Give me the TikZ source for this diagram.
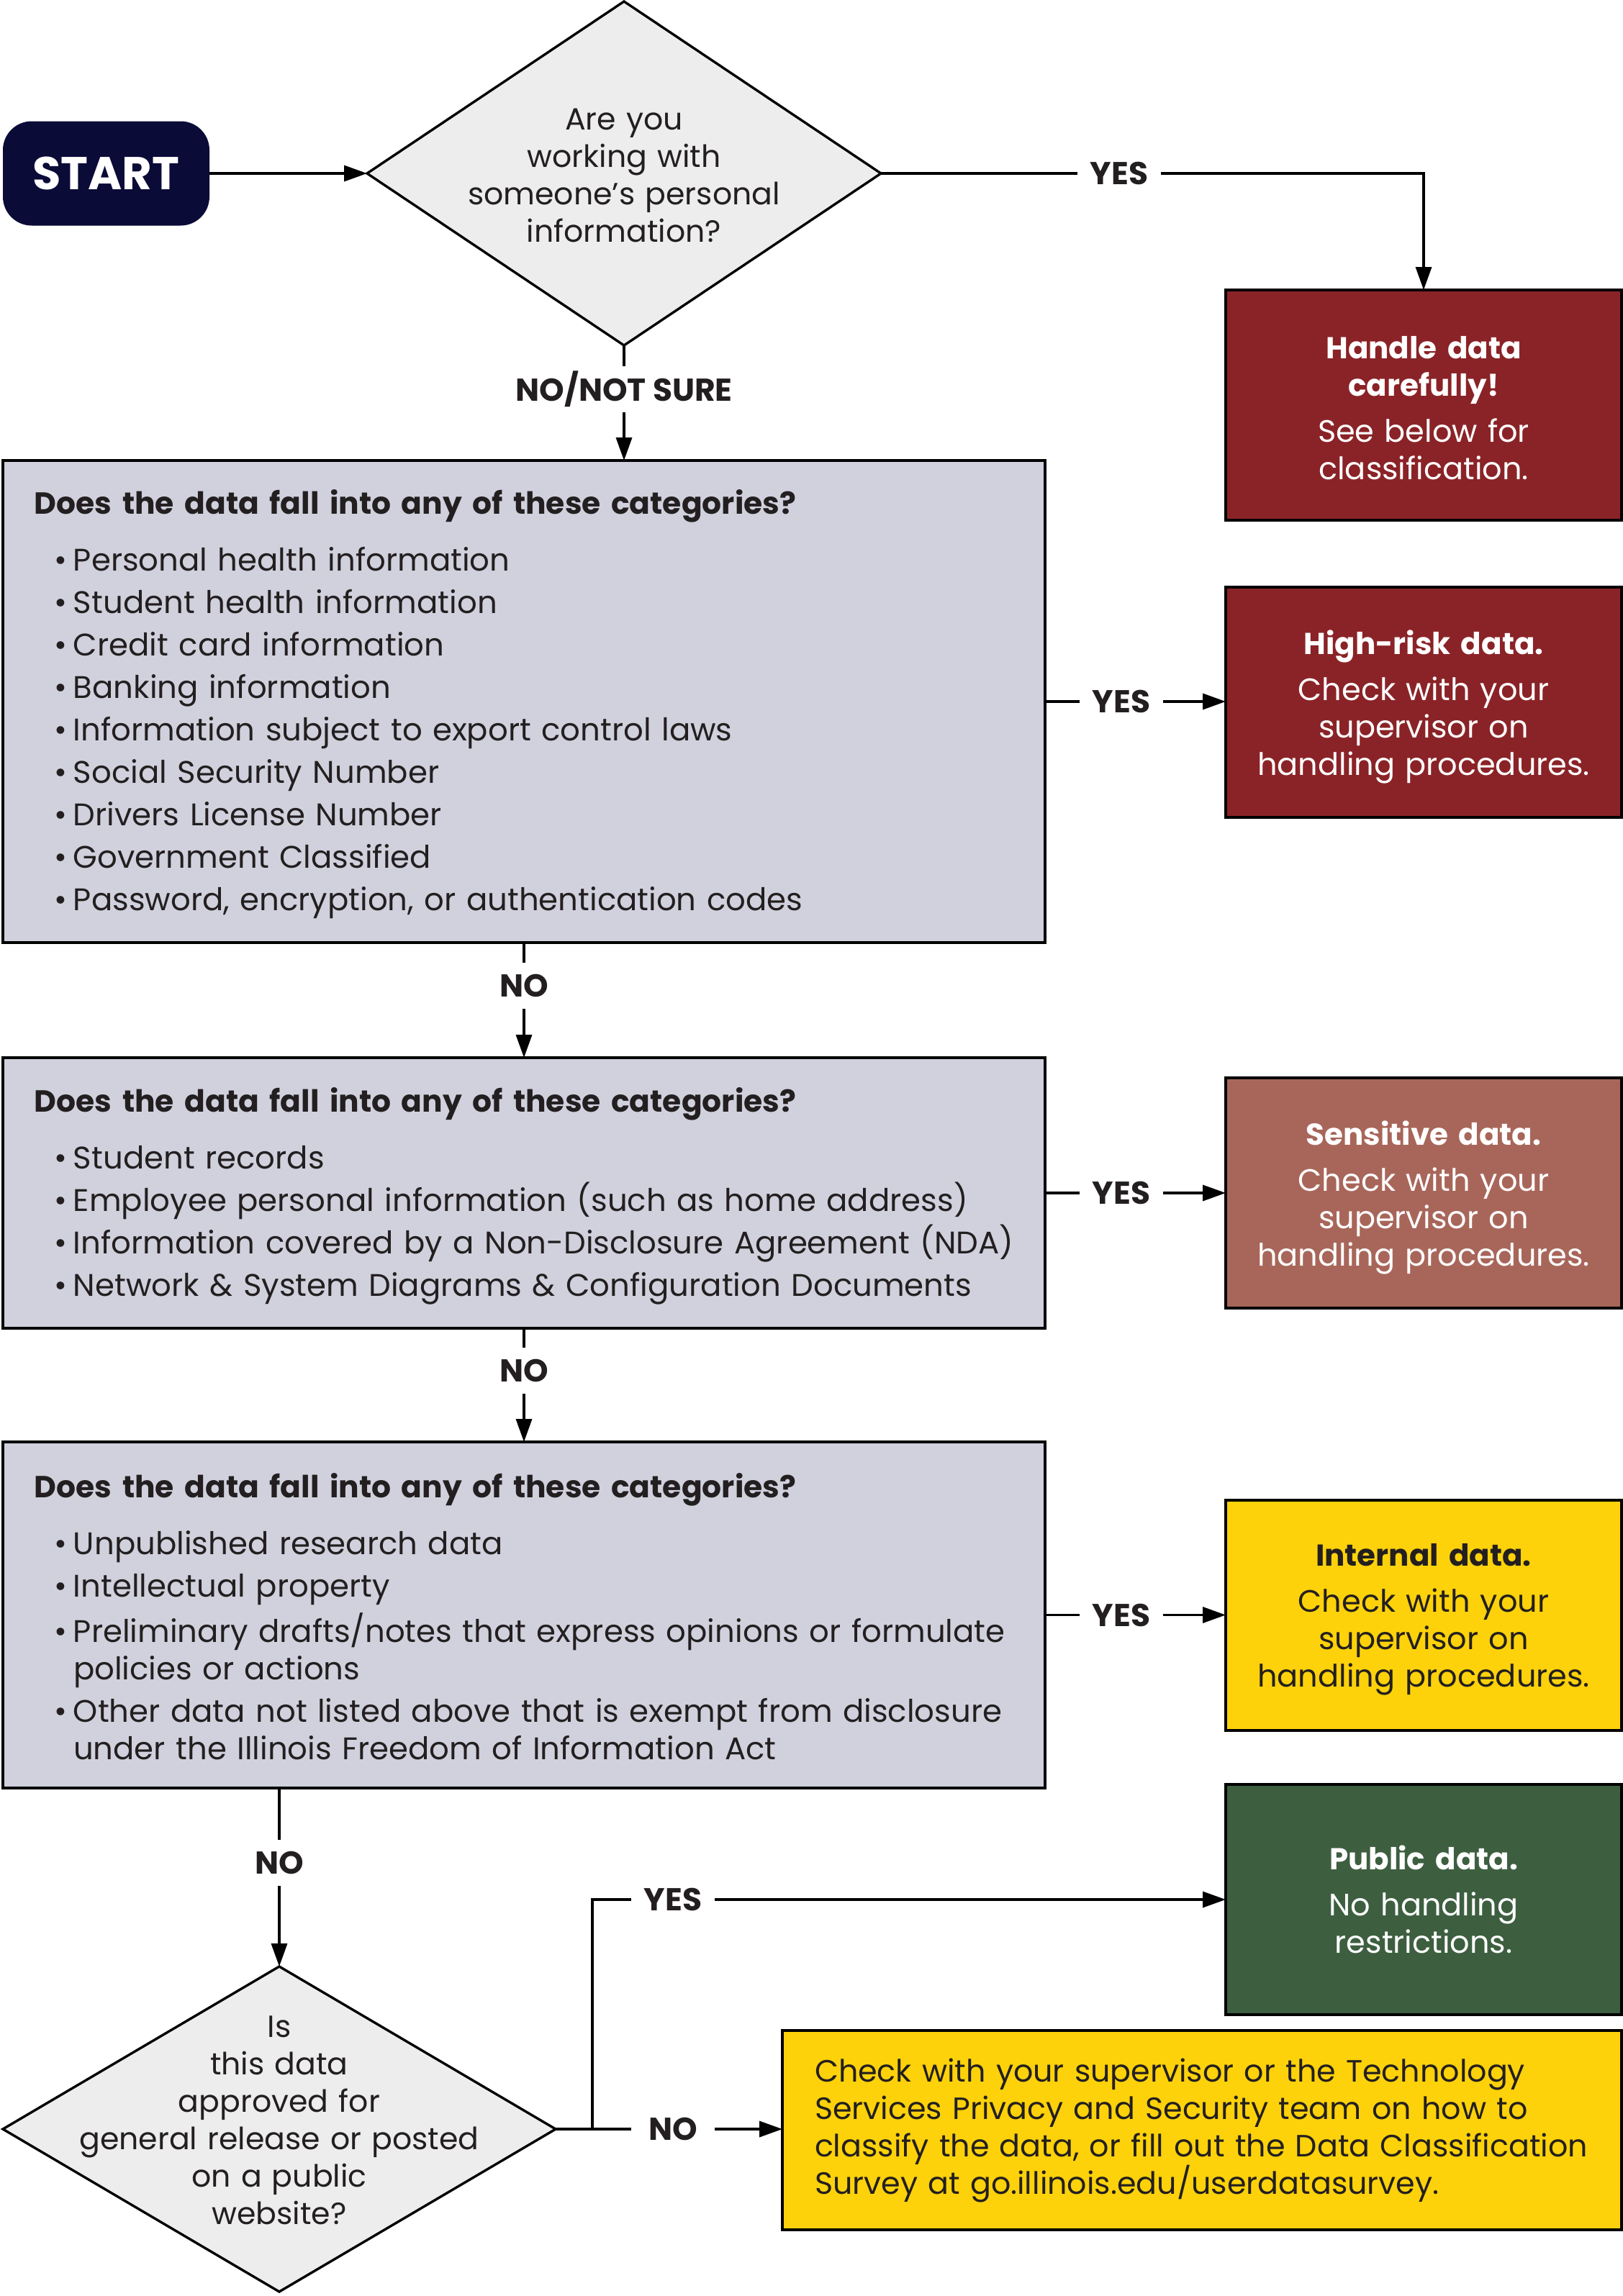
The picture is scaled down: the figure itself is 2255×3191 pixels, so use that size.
\documentclass[tikz,border=0pt]{standalone}
\usepackage{fontspec}
\setmainfont{Poppins}
\usetikzlibrary{shapes.geometric,arrows.meta,calc}
\definecolor{navy}{HTML}{0B0B38}
\definecolor{darkred}{HTML}{8A2327}
\definecolor{sensred}{HTML}{A8665A}
\definecolor{goldy}{HTML}{FDD20A}
\definecolor{pubgreen}{HTML}{3D5F40}
\definecolor{graybox}{HTML}{D0D1DD}
\definecolor{dfill}{HTML}{EDEDED}
\definecolor{ink}{HTML}{231F20}
\newcommand\myBody{\fontsize{10.85}{13}\selectfont}
\newcommand\myRBody{\fontsize{10.75}{13}\selectfont}
\newcommand\myHead[1]{\mbox{\fontsize{10.6}{13}\selectfont\bfseries #1}}
\newcommand\myItm[1]{\mbox{\hspace*{7pt}\makebox[6.5pt][l]{\textbullet}#1}}
\newcommand\myCont[1]{\mbox{\hspace*{13.5pt}#1}}
\newcommand\myTtl[1]{{\fontsize{10.5}{13}\selectfont\bfseries #1}}
\newcommand\myLift[1]{\par\vspace{-#1}}
\begin{document}
\begin{tikzpicture}[x=0.25pt,y=-0.25pt,
  gbox/.style={draw=black, line width=1pt, fill=graybox, anchor=north west, outer sep=0pt,
    inner xsep=11pt, inner ysep=0pt, text width=340pt, align=left, font=\myBody, text=ink},
  rbox/.style={draw=black, line width=1pt, anchor=north west, outer sep=0pt, minimum width=137.5pt,
    minimum height=80pt, text width=137pt, align=center, inner sep=0pt, font=\myRBody},
  lbl/.style={font=\fontsize{11}{13}\selectfont\bfseries, minimum width=29pt,
    minimum height=16pt, inner sep=0pt, outer sep=0pt, text=ink},
  conn/.style={line width=0.85pt},
  arr/.style={conn, -{Triangle[length=8pt,width=5.5pt]}},
  dshape/.style={diamond, draw=black, line width=0.85pt, fill=dfill, inner sep=0pt, outer sep=0pt},
  dtext/.style={font=\fontsize{10.65}{13}\selectfont, align=center, text width=180pt, text=ink}
]
\useasboundingbox (0,0) rectangle (2255,3191);

% start and first decision
\node[fill=navy, rounded corners=10pt, minimum width=71.75pt, minimum height=36.25pt, outer sep=0pt,
  text=white, font=\fontsize{16}{18}\selectfont\bfseries, inner sep=0pt] (start) at (147.5,241) {START};
\node[dshape, minimum width=178.5pt, minimum height=119.5pt] (d1) at (867,241) {};
\node[dtext] (d1t) at (867,244) {Are you\\working with\\someone’s personal\\information?};

% right column boxes
\node[rbox, fill=darkred, text=white] (handle) at (1703,403)
  {\myTtl{Handle data}\\\myTtl{carefully!}\\[3pt]See below for\\classification.\myLift{2pt}};
\node[rbox, fill=darkred, text=white] (hr) at (1703,816)
  {\myTtl{High-risk data.}\\[3pt]Check with your\\supervisor on\\handling procedures.\myLift{3pt}};
\node[rbox, fill=sensred, text=white] (sens) at (1703,1498)
  {\myTtl{Sensitive data.}\\[3pt]Check with your\\supervisor on\\handling procedures.\myLift{3pt}};
\node[rbox, fill=goldy, text=ink] (intl) at (1703,2085)
  {\myTtl{Internal data.}\\[3pt]Check with your\\supervisor on\\handling procedures.\myLift{3pt}};
\node[rbox, fill=pubgreen, text=white] (pub) at (1703,2480)
  {\myTtl{Public data.}\\[3pt]No handling\\restrictions.};

% question boxes
\node[gbox, minimum height=167.5pt] (q1) at (4,640)
  {\myHead{Does the data fall into any of these categories?}\\[6.75pt]
   \myItm{Personal health information}\\[1.75pt]
   \myItm{Student health information}\\[1.75pt]
   \myItm{Credit card information}\\[1.75pt]
   \myItm{Banking information}\\[1.75pt]
   \myItm{Information subject to export control laws}\\[1.75pt]
   \myItm{Social Security Number}\\[1.75pt]
   \myItm{Drivers License Number}\\[1.75pt]
   \myItm{Government Classified}\\[1.75pt]
   \myItm{Password, encryption, or authentication codes}\myLift{2pt}};
\node[gbox, minimum height=94pt] (q2) at (4,1470)
  {\myHead{Does the data fall into any of these categories?}\\[6.75pt]
   \myItm{Student records}\\[1.75pt]
   \myItm{Employee personal information (such as home address)}\\[1.75pt]
   \myItm{Information covered by a Non-Disclosure Agreement (NDA)}\\[1.75pt]
   \myItm{Network \& System Diagrams \& Configuration Documents}\myLift{2pt}};
\node[gbox, minimum height=120.25pt] (q3) at (4,2004)
  {\myHead{Does the data fall into any of these categories?}\\[6.75pt]
   \myItm{Unpublished research data}\\[1.75pt]
   \myItm{Intellectual property}\\[1.75pt]
   \myItm{Preliminary drafts/notes that express opinions or formulate}\\
   \myCont{policies or actions}\\[1.75pt]
   \myItm{Other data not listed above that is exempt from disclosure}\\
   \myCont{under the Illinois Freedom of Information Act}\myLift{1pt}};

% last decision and final box
\node[dshape, minimum width=192pt, minimum height=113pt] (d2) at (388,2959) {};
\node[dtext] (d2t) at (388,2947) {Is\\this data\\approved for\\general release or posted\\on a public\\website?};
\node[draw=black, line width=1pt, fill=goldy, anchor=north west, outer sep=0pt, minimum width=291.5pt,
  minimum height=69.25pt, inner xsep=11.25pt, inner ysep=0pt, text width=269pt, align=left,
  font=\fontsize{10.7}{13}\selectfont, text=ink] (survey) at (1087,2822)
  {\mbox{Check with your supervisor or the Technology}\\\mbox{Services Privacy and Security team on how to}\\\mbox{classify the data, or fill out the Data Classification}\\\mbox{Survey at go.illinois.edu/userdatasurvey.}};

% labels
\node[lbl] (yes1) at (1555,241) {YES};
\node[lbl] (nns) at (867,541) {NO/NOT SURE};
\node[lbl] (yes2) at (1558,975) {YES};
\node[lbl] (no1) at (728,1370) {NO};
\node[lbl] (yes3) at (1558,1658) {YES};
\node[lbl] (no2) at (728,1905) {NO};
\node[lbl] (yes4) at (1558,2244.5) {YES};
\node[lbl] (no3) at (388,2589) {NO};
\node[lbl] (no4) at (935,2959) {NO};
\node[lbl] (yes5) at (935,2640) {YES};
\coordinate (j) at (823,2959);

% connectors
\draw[arr] (start.east) -- (d1.west);
\draw[conn] (d1.east) -- (yes1.west);
\draw[arr] (yes1.east) -| (handle.north);
\draw[conn] (d1.south) -- (nns.north);
\draw[arr] (nns.south) -- (nns.south |- q1.north);
\draw[conn] (q1.east) -- (yes2.west);
\draw[arr] (yes2.east) -- (yes2.east -| hr.west);
\draw[conn] (q1.south) -- (no1.north);
\draw[arr] (no1.south) -- (q2.north);
\draw[conn] (q2.east) -- (yes3.west);
\draw[arr] (yes3.east) -- (yes3.east -| sens.west);
\draw[conn] (q2.south) -- (no2.north);
\draw[arr] (no2.south) -- (q3.north);
\draw[conn] (q3.east) -- (yes4.west);
\draw[arr] (yes4.east) -- (yes4.east -| intl.west);
\draw[conn] (q3.south -| d2.north) -- (no3.north);
\draw[arr] (no3.south) -- (d2.north);
\draw[conn] (d2.east) -- (no4.west);
\draw[arr] (no4.east) -- (no4.east -| survey.west);
\draw[conn] (j) |- (yes5.west);
\draw[arr] (yes5.east) -- (yes5.east -| pub.west);
\end{tikzpicture}
\end{document}
